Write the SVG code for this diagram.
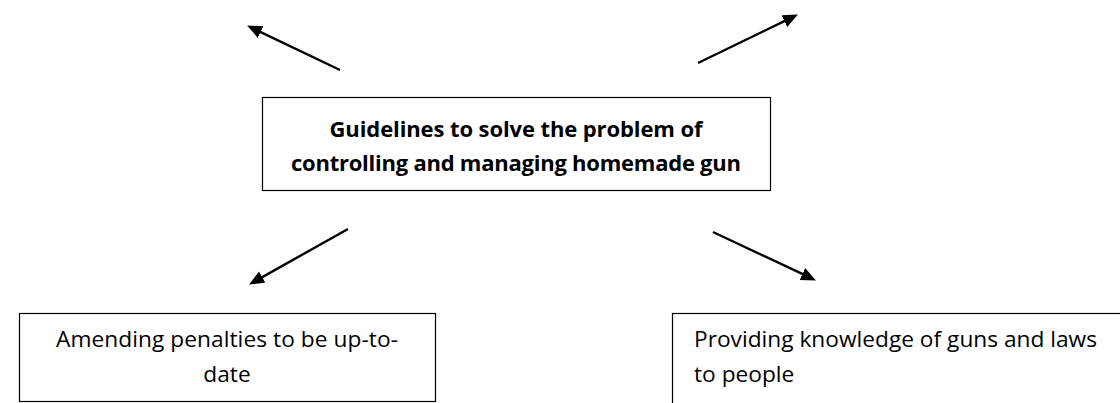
<svg xmlns="http://www.w3.org/2000/svg" width="1120" height="403" viewBox="0 0 1120 403">
<style>
.box{fill:#fff;stroke:#000;stroke-width:1.2}
.t{font-family:"Open Sans","Noto Sans","Liberation Sans",sans-serif;font-size:22.7px;fill:#000}
.b{font-weight:bold;font-size:22px}
.c{stroke:#000;stroke-width:2.4;fill:none;marker-end:url(#ah)}
</style>
<defs>
<marker id="ah" markerUnits="userSpaceOnUse" markerWidth="16" markerHeight="14" viewBox="0 0 16 14" refX="4" refY="6.5" orient="auto">
<path d="M0,0 L15,6.5 L0,13 z" fill="#000"/>
</marker>
</defs>
<rect width="1120" height="403" fill="#fff"/>
<g id="connectors">
<line class="c" x1="340" y1="70" x2="257" y2="30.3"/>
<line class="c" x1="698" y1="63" x2="788" y2="19.4"/>
<line class="c" x1="348" y1="229" x2="258.7" y2="279.1"/>
<line class="c" x1="713" y1="232" x2="806" y2="275.7"/>
</g>
<g id="center">
<rect class="box" x="262.5" y="97.5" width="508" height="93"/>
<text class="t b" x="516" y="137" text-anchor="middle" textLength="373">Guidelines to solve the problem of</text>
<text class="t b" x="516" y="171" text-anchor="middle" textLength="450">controlling and managing homemade gun</text>
</g>
<g id="left">
<rect class="box" x="19.5" y="313.5" width="416" height="88"/>
<text class="t" x="227" y="347" text-anchor="middle" textLength="342">Amending penalties to be up-to-</text>
<text class="t" x="227" y="382" text-anchor="middle">date</text>
</g>
<g id="right">
<rect class="box" x="672.5" y="313.5" width="470" height="100"/>
<text class="t" x="694" y="347" textLength="403">Providing knowledge of guns and laws</text>
<text class="t" x="694" y="382">to people</text>
</g>
</svg>
